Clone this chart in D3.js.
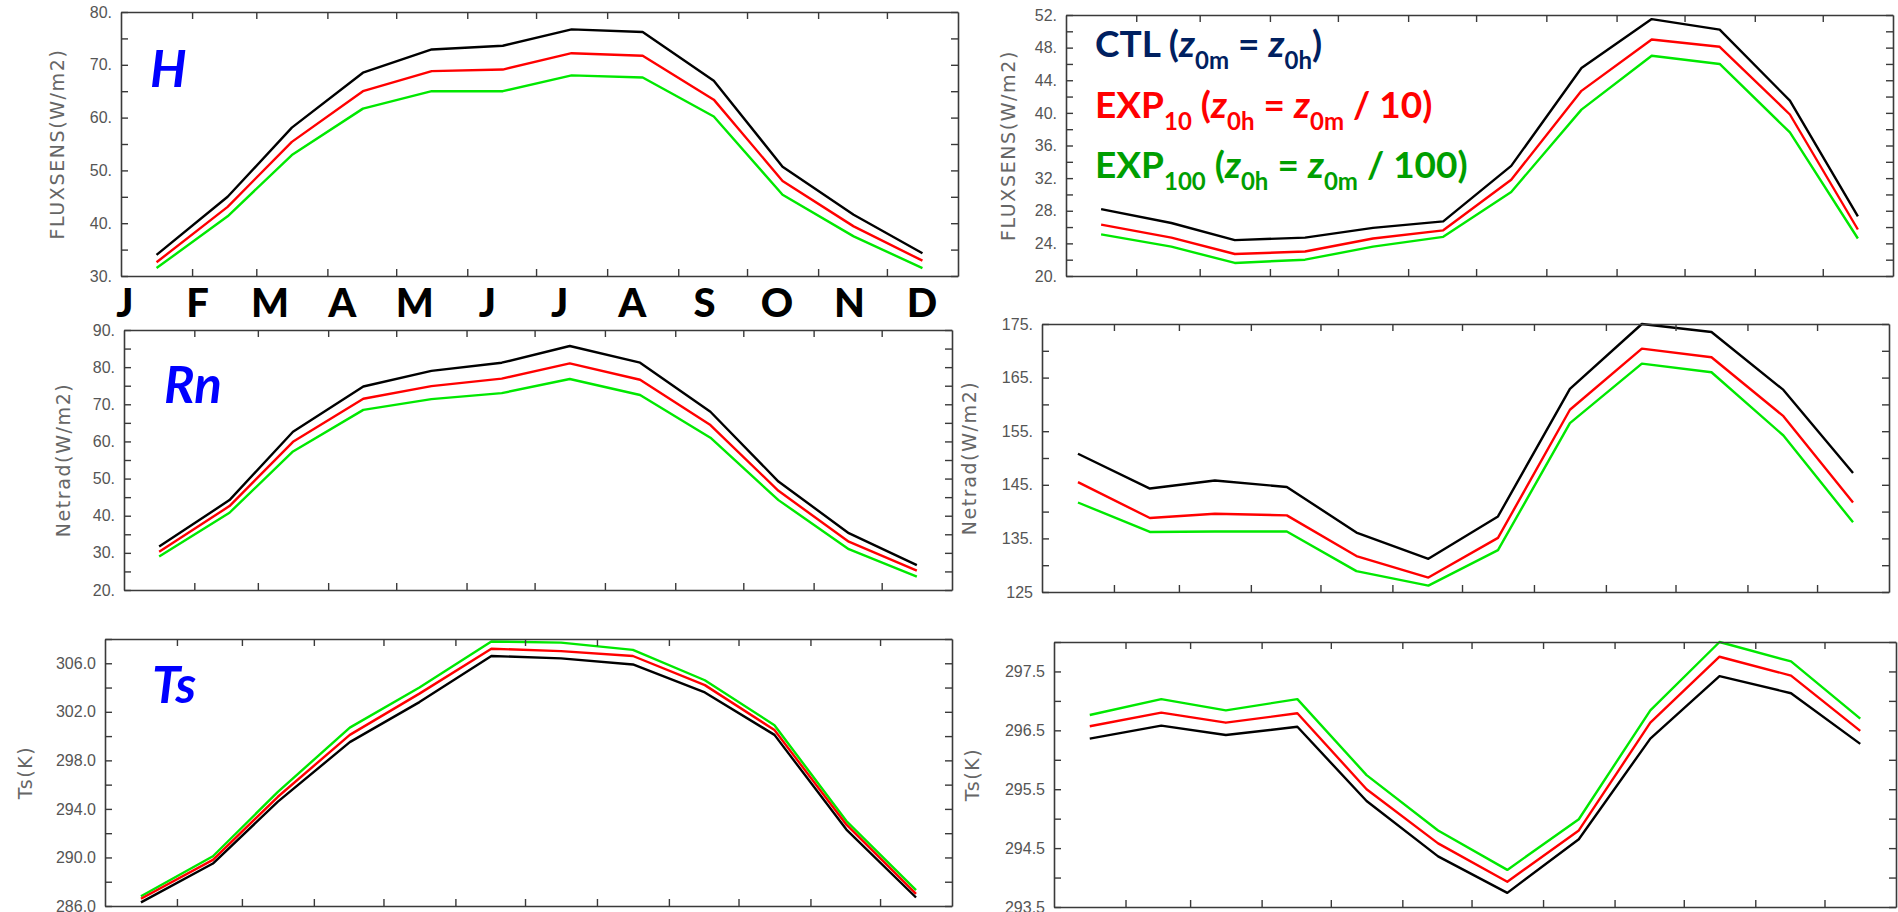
<!DOCTYPE html>
<html>
<head>
<meta charset="utf-8">
<script src="https://cdn.jsdelivr.net/npm/d3@7"></script>
<style>
  body { margin: 0; background: #fff; }
  svg { display: block; }
</style>
</head>
<body>
<div id="chart"></div>
<script>
// month initials written under the top-left panel
const monthLetters = ["J","F","M","A","M","J","J","A","S","O","N","D"];

// sensible heat flux (W/m2)
const fluxLeftCTL    = [34.0, 45.0, 58.1, 68.5, 72.9, 73.6, 76.7, 76.2, 67.0, 50.7, 41.6, 34.3];
const fluxLeftEXP10  = [32.6, 43.1, 55.4, 65.0, 68.8, 69.1, 72.2, 71.7, 63.4, 48.0, 39.4, 32.9];
const fluxLeftEXP100 = [31.5, 41.3, 52.9, 61.7, 65.0, 65.0, 68.0, 67.6, 60.2, 45.4, 37.5, 31.5];
const fluxRightCTL    = [28.2, 26.5, 24.4, 24.7, 25.9, 26.7, 33.5, 45.5, 51.5, 50.2, 41.5, 27.3];
const fluxRightEXP10  = [26.3, 24.7, 22.7, 23.0, 24.6, 25.6, 31.8, 42.7, 49.0, 48.1, 39.8, 25.7];
const fluxRightEXP100 = [25.1, 23.6, 21.6, 22.0, 23.6, 24.8, 30.3, 40.4, 47.0, 46.0, 37.6, 24.6];

// net radiation (W/m2)
const netradLeftCTL    = [31.7, 44.2, 62.6, 74.8, 79.0, 81.2, 85.7, 81.2, 68.0, 49.2, 35.3, 26.7];
const netradLeftEXP10  = [30.3, 42.6, 59.9, 71.5, 74.9, 76.9, 81.0, 76.6, 64.4, 46.7, 33.0, 25.2];
const netradLeftEXP100 = [29.0, 40.8, 57.3, 68.5, 71.4, 73.0, 76.8, 72.5, 61.0, 44.2, 31.0, 23.6];
const netradRightCTL    = [150.8, 144.3, 145.8, 144.6, 136.1, 131.2, 139.1, 162.9, 175.0, 173.5, 162.7, 147.2];
const netradRightEXP10  = [145.5, 138.8, 139.6, 139.3, 131.7, 127.7, 135.1, 159.0, 170.4, 168.8, 157.8, 141.7];
const netradRightEXP100 = [141.7, 136.2, 136.3, 136.3, 128.9, 126.2, 132.8, 156.5, 167.6, 166.0, 154.2, 138.0];

// surface temperature (K)
const tsLeftCTL    = [286.3, 289.5, 294.6, 299.5, 302.8, 306.6, 306.4, 305.9, 303.6, 300.1, 292.3, 286.7];
const tsLeftEXP10  = [286.6, 289.8, 295.0, 300.1, 303.5, 307.2, 307.0, 306.6, 304.2, 300.5, 292.7, 287.0];
const tsLeftEXP100 = [286.8, 290.1, 295.4, 300.7, 304.0, 307.8, 307.7, 307.1, 304.6, 300.9, 293.0, 287.3];
const tsRightCTL    = [296.36, 296.58, 296.42, 296.56, 295.30, 294.36, 293.74, 294.65, 296.36, 297.42, 297.13, 296.27];
const tsRightEXP10  = [296.57, 296.80, 296.63, 296.79, 295.50, 294.58, 293.93, 294.80, 296.63, 297.75, 297.43, 296.49];
const tsRightEXP100 = [296.76, 297.03, 296.84, 297.03, 295.74, 294.80, 294.13, 294.99, 296.84, 298.00, 297.67, 296.70];

// y tick values and their printed labels
const fluxLeftTicks = [30, 40, 50, 60, 70, 80];
const fluxLeftTickLabels = ["30.", "40.", "50.", "60.", "70.", "80."];
const fluxRightTicks = [20, 24, 28, 32, 36, 40, 44, 48, 52];
const fluxRightTickLabels = ["20.", "24.", "28.", "32.", "36.", "40.", "44.", "48.", "52."];
const netradLeftTicks = [20, 30, 40, 50, 60, 70, 80, 90];
const netradLeftTickLabels = ["20.", "30.", "40.", "50.", "60.", "70.", "80.", "90."];
const netradRightTicks = [125, 135, 145, 155, 165, 175];
const netradRightTickLabels = ["125", "135.", "145.", "155.", "165.", "175."];
const tsLeftTicks = [286, 290, 294, 298, 302, 306];
const tsLeftTickLabels = ["286.0", "290.0", "294.0", "298.0", "302.0", "306.0"];
const tsRightTicks = [293.5, 294.5, 295.5, 296.5, 297.5];
const tsRightTickLabels = ["293.5", "294.5", "295.5", "296.5", "297.5"];

const seriesNames = ["CTL", "EXP10", "EXP100"];
const lineColor = {CTL: "#000000", EXP10: "#ff0000", EXP100: "#00e800"};

const width = 1898, height = 912;
const svg = d3.select("#chart")
  .append("svg")
  .attr("width", width)
  .attr("height", height);

const year = 2001;
const monthMid = d3.range(12).map(m => new Date(year, m, 16, 12));
const monthBounds = d3.timeMonth.range(new Date(year, 1, 1), new Date(year, 11, 2));

const panels = [
  {box: [121, 12, 958, 276], domain: [30, 80], minor: 5, ticks: fluxLeftTicks, tickLabels: fluxLeftTickLabels,
   ylabel: "FLUXSENS(W/m2)", ylabelX: 57, tag: "H", tagX: 150, tagY: 87,
   data: {CTL: fluxLeftCTL, EXP10: fluxLeftEXP10, EXP100: fluxLeftEXP100}},
  {box: [1066, 15, 1893, 276], domain: [20, 52], minor: 2, ticks: fluxRightTicks, tickLabels: fluxRightTickLabels,
   ylabel: "FLUXSENS(W/m2)", ylabelX: 1008,
   data: {CTL: fluxRightCTL, EXP10: fluxRightEXP10, EXP100: fluxRightEXP100}},
  {box: [124, 330, 952, 590], domain: [20, 90], minor: 5, ticks: netradLeftTicks, tickLabels: netradLeftTickLabels,
   ylabel: "Netrad(W/m2)", ylabelX: 63, tag: "Rn", tagX: 164, tagY: 403,
   data: {CTL: netradLeftCTL, EXP10: netradLeftEXP10, EXP100: netradLeftEXP100}},
  {box: [1042, 324, 1889, 592], domain: [125, 175], minor: 5, ticks: netradRightTicks, tickLabels: netradRightTickLabels,
   ylabel: "Netrad(W/m2)", ylabelX: 969,
   data: {CTL: netradRightCTL, EXP10: netradRightEXP10, EXP100: netradRightEXP100}},
  {box: [105, 639, 952, 906], domain: [286, 308], minor: 2, ticks: tsLeftTicks, tickLabels: tsLeftTickLabels,
   ylabel: "Ts(K)", ylabelX: 25, tag: "Ts", tagX: 152, tagY: 703,
   data: {CTL: tsLeftCTL, EXP10: tsLeftEXP10, EXP100: tsLeftEXP100}},
  {box: [1054, 642, 1896, 907], domain: [293.5, 298], minor: 0.5, ticks: tsRightTicks, tickLabels: tsRightTickLabels,
   ylabel: "Ts(K)", ylabelX: 972,
   data: {CTL: tsRightCTL, EXP10: tsRightEXP10, EXP100: tsRightEXP100}}
];

const frameColor = "#3a3a3a";
const tickLen = 7;

function styleAxis(g) {
  g.selectAll("path.domain").attr("stroke", frameColor).attr("stroke-width", 1.6);
  g.selectAll(".tick line").attr("stroke", frameColor).attr("stroke-width", 1.4);
}

panels.forEach(p => {
  const [x0, y0, x1, y1] = p.box;
  const x = d3.scaleTime()
    .domain([new Date(year, 0, 1), new Date(year + 1, 0, 1)])
    .range([x0, x1]);
  const y = d3.scaleLinear().domain(p.domain).range([y1, y0]);
  const minorTicks = d3.range(p.domain[0], p.domain[1] + 1e-6, p.minor);

  const g = svg.append("g");

  // the three curves
  const line = d3.line()
    .x((d, i) => x(monthMid[i]))
    .y(d => y(d));
  seriesNames.slice().reverse().forEach(s => {
    g.append("path")
      .datum(p.data[s])
      .attr("fill", "none")
      .attr("stroke", lineColor[s])
      .attr("stroke-width", 2.4)
      .attr("stroke-linejoin", "round")
      .attr("d", line);
  });

  // frame + inward ticks on all four sides
  g.append("g").attr("transform", `translate(${x0},0)`)
    .call(d3.axisLeft(y).tickValues(minorTicks).tickSizeInner(-tickLen).tickSizeOuter(0).tickFormat(""))
    .call(styleAxis);
  g.append("g").attr("transform", `translate(${x1},0)`)
    .call(d3.axisRight(y).tickValues(minorTicks).tickSizeInner(-tickLen).tickSizeOuter(0).tickFormat(""))
    .call(styleAxis);
  g.append("g").attr("transform", `translate(0,${y0})`)
    .call(d3.axisTop(x).tickValues(monthBounds).tickSizeInner(-tickLen).tickSizeOuter(0).tickFormat(""))
    .call(styleAxis);
  g.append("g").attr("transform", `translate(0,${y1})`)
    .call(d3.axisBottom(x).tickValues(monthBounds).tickSizeInner(-tickLen).tickSizeOuter(0).tickFormat(""))
    .call(styleAxis);

  // y tick labels
  const labelAxis = g.append("g").attr("transform", `translate(${x0},0)`)
    .call(d3.axisLeft(y).tickValues(p.ticks).tickSize(0).tickPadding(9)
      .tickFormat((d, i) => p.tickLabels[i]));
  labelAxis.select("path.domain").remove();
  labelAxis.selectAll("text")
    .attr("fill", "#555")
    .style("font-family", "'Liberation Sans', Arial, sans-serif")
    .style("font-size", "16px");

  // y axis title
  g.append("text")
    .attr("transform", `translate(${p.ylabelX},${(y0 + y1) / 2}) rotate(-90)`)
    .attr("text-anchor", "middle")
    .attr("dominant-baseline", "central")
    .attr("fill", "#666")
    .style("font-family", "'DejaVu Sans', sans-serif")
    .style("font-size", "19px")
    .style("letter-spacing", "1.6px")
    .text(p.ylabel);

  // variable tag (H, Rn, Ts)
  if (p.tag) {
    g.append("text")
      .attr("x", p.tagX)
      .attr("y", p.tagY)
      .attr("fill", "#0000ff")
      .style("font-family", "Lato, sans-serif")
      .style("font-weight", "bold")
      .style("font-style", "italic")
      .style("font-size", "51px")
      .text(p.tag);
  }
});

// month initials
const letterX = d3.scalePoint().domain(d3.range(12)).range([125, 922]);
svg.append("g")
  .selectAll("text")
  .data(monthLetters)
  .join("text")
  .attr("x", (d, i) => letterX(i))
  .attr("y", 317)
  .attr("text-anchor", "middle")
  .attr("fill", "#000")
  .style("font-family", "Lato, sans-serif")
  .style("font-weight", "900")
  .style("font-size", "40px")
  .text(d => d);

// legend (top-right panel)
const legendColor = {CTL: "#002060", EXP10: "#ff0000", EXP100: "#009e00"};
const legendParts = {
  CTL:    [["CTL (", ""], ["z", "i"], ["0m", "s"], [" = ", ""], ["z", "i"], ["0h", "s"], [")", ""]],
  EXP10:  [["EXP", ""], ["10", "s"], [" (", ""], ["z", "i"], ["0h", "s"], [" = ", ""], ["z", "i"], ["0m", "s"], [" / 10)", ""]],
  EXP100: [["EXP", ""], ["100", "s"], [" (", ""], ["z", "i"], ["0h", "s"], [" = ", ""], ["z", "i"], ["0m", "s"], [" / 100)", ""]]
};
const legendY = d3.scalePoint().domain(seriesNames).range([57, 178]);

seriesNames.forEach(s => {
  const t = svg.append("text")
    .attr("x", 1095)
    .attr("y", legendY(s))
    .attr("fill", legendColor[s])
    .style("font-family", "Lato, sans-serif")
    .style("font-weight", "bold")
    .style("font-size", "37px");
  let lowered = false;
  legendParts[s].forEach(([txt, kind]) => {
    const ts = t.append("tspan").text(txt);
    if (kind === "s") {
      ts.style("font-size", "24px");
      if (!lowered) { ts.attr("dy", 12); lowered = true; }
    } else {
      if (lowered) { ts.attr("dy", -12); lowered = false; }
      if (kind === "i") ts.style("font-style", "italic");
    }
  });
});
</script>
</body>
</html>
